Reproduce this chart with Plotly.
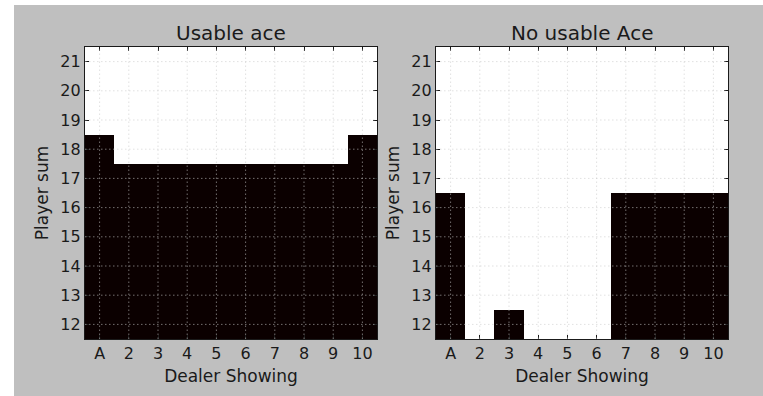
import plotly.graph_objects as go

# Blackjack policy: 1 = hit, 0 = stick
dealer_labels = ["A", "2", "3", "4", "5", "6", "7", "8", "9", "10"]
player_sums = [12, 13, 14, 15, 16, 17, 18, 19, 20, 21]

# rows follow player_sums, columns follow dealer_labels
usable_ace = [
    [1, 1, 1, 1, 1, 1, 1, 1, 1, 1],  # 12
    [1, 1, 1, 1, 1, 1, 1, 1, 1, 1],  # 13
    [1, 1, 1, 1, 1, 1, 1, 1, 1, 1],  # 14
    [1, 1, 1, 1, 1, 1, 1, 1, 1, 1],  # 15
    [1, 1, 1, 1, 1, 1, 1, 1, 1, 1],  # 16
    [1, 1, 1, 1, 1, 1, 1, 1, 1, 1],  # 17
    [1, 0, 0, 0, 0, 0, 0, 0, 0, 1],  # 18
    [0, 0, 0, 0, 0, 0, 0, 0, 0, 0],  # 19
    [0, 0, 0, 0, 0, 0, 0, 0, 0, 0],  # 20
    [0, 0, 0, 0, 0, 0, 0, 0, 0, 0],  # 21
]
no_usable_ace = [
    [1, 0, 1, 0, 0, 0, 1, 1, 1, 1],  # 12
    [1, 0, 0, 0, 0, 0, 1, 1, 1, 1],  # 13
    [1, 0, 0, 0, 0, 0, 1, 1, 1, 1],  # 14
    [1, 0, 0, 0, 0, 0, 1, 1, 1, 1],  # 15
    [1, 0, 0, 0, 0, 0, 1, 1, 1, 1],  # 16
    [0, 0, 0, 0, 0, 0, 0, 0, 0, 0],  # 17
    [0, 0, 0, 0, 0, 0, 0, 0, 0, 0],  # 18
    [0, 0, 0, 0, 0, 0, 0, 0, 0, 0],  # 19
    [0, 0, 0, 0, 0, 0, 0, 0, 0, 0],  # 20
    [0, 0, 0, 0, 0, 0, 0, 0, 0, 0],  # 21
]
titles = ["Usable ace", "No usable Ace"]

W, H = 763, 396
BG = "#bfbfbf"
INK = "#1a1a1a"
FONT = "DejaVu Sans"

# plot-area boxes in pixels (left, right, top, bottom)
boxes = [(85, 377, 47, 339), (436, 728, 47, 339)]

fig = go.Figure()
cols = list(range(len(dealer_labels)))

for k, (z, title, (l, r, t, b)) in enumerate(zip([usable_ace, no_usable_ace], titles, boxes)):
    xa = "x" if k == 0 else "x2"
    ya = "y" if k == 0 else "y2"
    fig.add_trace(go.Heatmap(
        z=z, x=cols, y=player_sums,
        colorscale=[[0, "#ffffff"], [1, "#0b0000"]],
        zmin=0, zmax=1, showscale=False, hoverinfo="skip",
        xaxis=xa, yaxis=ya,
    ))
    ax_common = dict(
        showgrid=False, zeroline=False, showline=True, linecolor=INK, linewidth=1.3,
        mirror="ticks", ticks="inside", ticklen=4, tickwidth=1, tickcolor=INK,
        tickfont=dict(family=FONT, size=16, color=INK),
        title_font=dict(family=FONT, size=17, color=INK),
    )
    xname = "xaxis" if k == 0 else "xaxis2"
    yname = "yaxis" if k == 0 else "yaxis2"
    fig.update_layout(**{
        xname: dict(ax_common, domain=[l / W, r / W], range=[-0.5, len(cols) - 0.5],
                    tickvals=cols, ticktext=dealer_labels, anchor=ya,
                    title=dict(text="Dealer Showing", standoff=7)),
        yname: dict(ax_common, domain=[1 - b / H, 1 - t / H],
                    range=[player_sums[0] - 0.5, player_sums[-1] + 0.5],
                    tickvals=player_sums, anchor=xa,
                    title=dict(text="Player sum", standoff=7)),
    })
    # dotted grid drawn over the cells
    grid = dict(type="line", layer="above",
                line=dict(color="rgba(200,200,200,0.55)", width=1, dash="1.5px,2.5px"))
    for c in cols:
        fig.add_shape(grid, xref=xa, yref=f"{ya} domain", x0=c, x1=c, y0=0, y1=1)
    for s in player_sums:
        fig.add_shape(grid, xref=f"{xa} domain", yref=ya, x0=0, x1=1, y0=s, y1=s)
    fig.add_annotation(text=title, xref="paper", yref="paper",
                       x=(l + r) / 2 / W, y=1 - 33 / H, showarrow=False,
                       xanchor="center", yanchor="middle",
                       font=dict(family=FONT, size=20, color=INK))

# thin white margin along the left and top edges
fig.add_shape(type="rect", xref="paper", yref="paper", x0=0, x1=14 / W, y0=0, y1=1,
              fillcolor="white", line_width=0, layer="below")
fig.add_shape(type="rect", xref="paper", yref="paper", x0=0, x1=1, y0=1 - 5 / H, y1=1,
              fillcolor="white", line_width=0, layer="below")

fig.update_layout(
    width=W, height=H, margin=dict(l=0, r=0, t=0, b=0),
    paper_bgcolor=BG, plot_bgcolor="white", showlegend=False,
)

fig.write_html("out.html")
